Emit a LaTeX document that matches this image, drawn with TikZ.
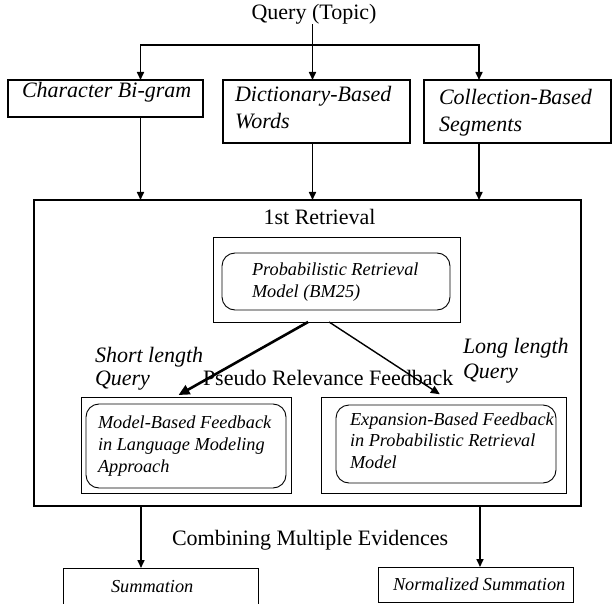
\documentclass[tikz,border=0pt]{standalone}
\usepackage{fontspec}
\setmainfont{Liberation Serif}
\usetikzlibrary{arrows.meta,calc}
\begin{document}
\begin{tikzpicture}[x=1pt,y=-1pt,
  big/.style={font=\fontsize{22}{27}\selectfont},
  bigit/.style={font=\fontsize{22}{27}\selectfont\itshape},
  small/.style={font=\fontsize{18.3}{22}\selectfont\itshape},
  lbl/.style={inner sep=0pt, outer sep=0pt, anchor=base west, align=left},
  box/.style={draw, line width=1.1pt, anchor=north west, inner sep=0pt, outer sep=0pt},
  thinbox/.style={box, line width=0.9pt},
  rbox/.style={box, line width=0.9pt, rounded corners=13pt},
  arr/.style={line width=1.6pt, line cap=rect, -{Triangle[length=8pt,width=7pt]}},
]
\path[use as bounding box] (0,0) rectangle (613,604);

% top
\node[lbl, big, anchor=base] (query) at (314,20) {Query (Topic)};
\node[box, minimum width=195pt, minimum height=37pt] (char) at (8,80) {};
\node[box, minimum width=187pt, minimum height=63pt] (dict) at (223,80) {};
\node[box, minimum width=187pt, minimum height=63pt] (coll) at (424,80) {};
\node[lbl, bigit] (chart) at (22,98) {Character Bi-gram};
\node[lbl, bigit] (dictt) at (235,129) {Dictionary-Based\\Words};
\node[lbl, bigit] (collt) at (439,132) {Collection-Based\\Segments};

\coordinate (bar) at (0,45);
\coordinate (c1) at (140.5,0);
\coordinate (c2) at (312.5,0);
\coordinate (c3) at (479,0);
\draw[arr] (bar -| c3) -- (bar -| c1) -- (char.north -| c1);
\draw[arr] (bar -| c3) -- (coll.north -| c3);
\draw[arr] (query.south -| c2) -- (dict.north -| c2);

% big box
\node[box, line width=2.5pt, minimum width=547pt, minimum height=306pt] (big) at (34,200) {};
\draw[arr] (char.south -| c1) -- (big.north -| c1);
\draw[arr] (dict.south -| c2) -- (big.north -| c2);
\draw[arr] (coll.south -| c3) -- (big.north -| c3);

\node[lbl, big, anchor=base] (ret) at (319.5,225) {1st Retrieval};
\node[thinbox, minimum width=247pt, minimum height=85pt] (bmo) at (213,237) {};
\node[rbox, minimum width=228pt, minimum height=57pt] (bmi) at (222,253) {};
\node[lbl, small] (bmt) at (252,297) {Probabilistic Retrieval\\Model (BM25)};

\node[lbl, bigit] (shortq) at (95,385) {Short length\\[-4pt]Query};
\node[lbl, bigit] (longq) at (463,378) {Long length\\[-2pt]Query};
\node[lbl, big] (prf) at (203,385) {Pseudo Relevance Feedback};

\node[thinbox, minimum width=210pt, minimum height=96pt] (lo) at (81,397) {};
\node[rbox, minimum width=200pt, minimum height=84pt] (li) at (86,404) {};
\node[lbl, small] (lt) at (98,472) {Model-Based Feedback\\in Language Modeling\\Approach};

\node[thinbox, minimum width=245pt, minimum height=96pt] (ro) at (321,397) {};
\node[rbox, minimum width=220pt, minimum height=78pt] (ri) at (336,405) {};
\node[lbl, small] (rt) at (350,468) {Expansion-Based Feedback\\[-0.5pt]in Probabilistic Retrieval\\[-0.5pt]Model};

\draw[line width=2.6pt, -{Triangle[length=11pt,width=10pt]}, shorten >=4pt]
  ($(bmo.south west)!0.385!(bmo.south east)$) -- ($(lo.north west)!0.448!(lo.north east)$);
\draw[line width=1.4pt, -{Triangle[length=9pt,width=8pt]}, shorten >=5pt]
  ($(bmo.south west)!0.47!(bmo.south east)$) -- ($(ro.north west)!0.502!(ro.north east)$);

% bottom
\node[lbl, big] (comb) at (172,545) {Combining Multiple Evidences};
\node[thinbox, minimum width=195pt, minimum height=38pt] (sum) at (63,568) {};
\node[thinbox, minimum width=195pt, minimum height=35pt] (nsum) at (378,567) {};
\node[lbl, small] (sumt) at (111,592) {Summation};
\node[lbl, small] (nsumt) at (393,590) {Normalized Summation};

\coordinate (e1) at (141,0);
\coordinate (e2) at (480,0);
\draw[arr] (big.south -| e1) -- (sum.north -| e1);
\draw[arr] (big.south -| e2) -- (nsum.north -| e2);
\end{tikzpicture}
\end{document}
